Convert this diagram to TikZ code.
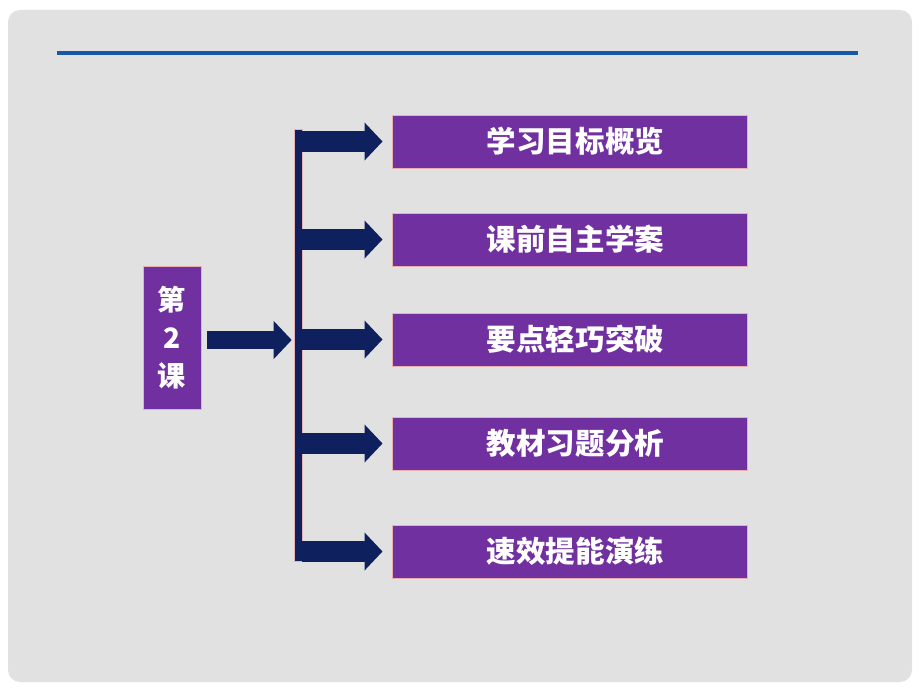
\documentclass[tikz,border=0pt]{standalone}
\usepackage{fontspec}
\newfontfamily\cjk{Noto Sans CJK SC}
\usetikzlibrary{arrows.meta}
\definecolor{panelgray}{RGB}{225,225,225}
\definecolor{rulblue}{RGB}{24,88,166}
\definecolor{boxpurple}{RGB}{112,48,160}
\definecolor{navy}{RGB}{14,32,94}
\definecolor{glow}{RGB}{232,176,176}
\tikzset{
  item/.style={fill=boxpurple, draw=glow, line width=0.6pt, minimum width=8.875cm,
    minimum height=1.325cm, text=white, font=\cjk\bfseries\fontsize{21}{24}\selectfont},
  branch/.style={navy, line width=0.525cm, -{Triangle[length=0.45cm,width=0.925cm]}}
}
\begin{document}
\begin{tikzpicture}[x=0.025cm,y=-0.025cm]
            \useasboundingbox (0,0) rectangle (920,690);
            \fill[white] (0,0) rectangle (920,690);
            \fill[panelgray, rounded corners=0.3cm] (8,10) rectangle (912,682);
            \draw[rulblue, line width=0.1cm] (57,53) -- (858,53);
            % lesson box and the bar
            \node[item, minimum width=1.45cm, minimum height=3.575cm, align=center,
                  inner sep=0pt, font=\cjk\bfseries\fontsize{20}{27}\selectfont]
                  (lesson) at (172,338) {第\\2\\课};
            \node[fill=navy, draw=glow, line width=0.4pt, minimum width=0.2cm,
                  minimum height=10.8cm, inner sep=0pt] (bar) at (298,345) {};
            \draw[branch, line width=0.45cm, shorten <=0.15cm, shorten >=0.05cm]
                  (lesson.east |- 0,340) -- (bar.west |- 0,340);
            % the five parts
            \foreach \y/\name/\txt in {141.5/p1/学习目标概览, 239.5/p2/课前自主学案,
                  339.5/p3/要点轻巧突破, 443.5/p4/教材习题分析, 551.5/p5/速效提能演练} {
                \node[item] (\name) at (569.5,\y) {\hspace{0.3cm}\txt};
                \draw[branch, shorten >=0.225cm] (bar.east |- \name.west) -- (\name.west);
            }
        \end{tikzpicture}
\end{document}
